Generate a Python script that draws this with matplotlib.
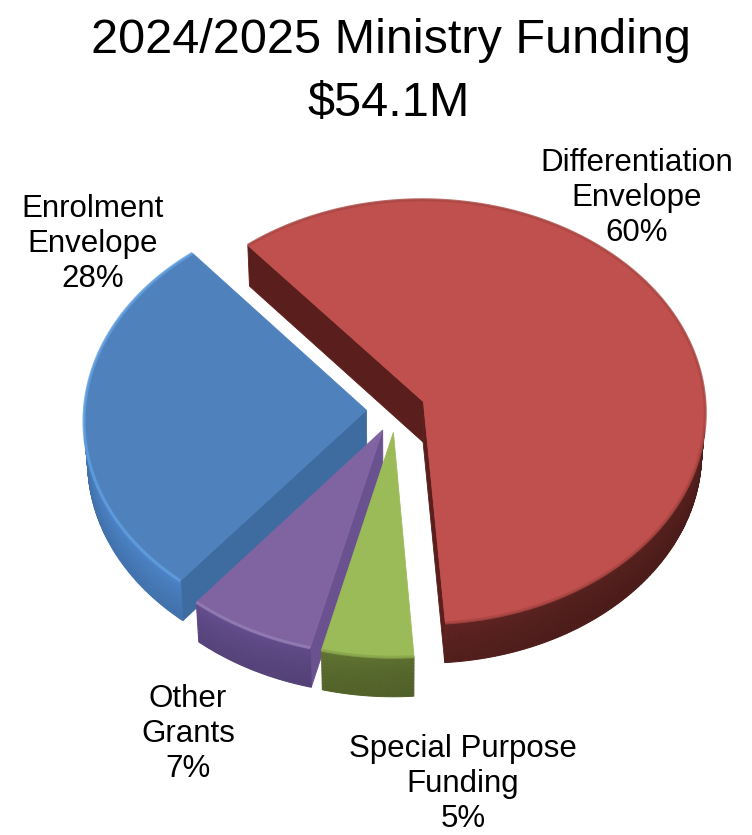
import numpy as np
import matplotlib
matplotlib.use("Agg")
import matplotlib.pyplot as plt
from matplotlib.patches import Polygon
from matplotlib.colors import to_rgb

# ---- data -------------------------------------------------------------
title_line1 = "2024/2025 Ministry Funding"
title_line2 = "$54.1M"
categories = ["Differentiation\nEnvelope", "Special Purpose\nFunding",
              "Other\nGrants", "Enrolment\nEnvelope"]
shares = [60, 5, 7, 28]
top_colors = ["#C0504D", "#9BBB59", "#8064A2", "#4F81BD"]
wall_colors = ["#5E2321", "#5A6C2E", "#5A4680", "#4476B2"]
side_colors = ["#5A1E1C", "#55672B", "#6A5290", "#3E6CA0"]
rim_colors = ["#A84542", "#88A64C", "#9580B6", "#62A0E0"]

# label anchors (centre x, first baseline y) in pixel space
label_x = [637, 463, 188, 93]
label_y0 = [171, 757, 707, 217]
label_step = 35

# ---- view set-up --------------------------------------------------------
W, H = 752, 835
START_DEG = -40.0          # first slice starts here, clockwise from 12 o'clock
EXPLODE = 0.105            # radial offset of every slice (radius = 1)
DEPTH = 0.22               # thickness of the disc
CAM_DIST = 14.0
PHI = np.radians(48.8)     # elevation of the viewpoint
CX, CY = 396.0, 410.0
K = 282.0 * CAM_DIST
cphi, sphi = np.cos(PHI), np.sin(PHI)
CAM = np.array([0.0, -CAM_DIST * cphi, CAM_DIST * sphi])
LIGHT = np.array([-0.75, -0.45, 0.0])
LIGHT /= np.linalg.norm(LIGHT)


def project(X, Y, Z):
    X, Y, Z = np.asarray(X, float), np.asarray(Y, float), np.asarray(Z, float)
    d = CAM_DIST + Y * cphi - Z * sphi
    return np.column_stack([CX + K * X / d, CY - K * (Y * sphi + Z * cphi) / d])


def shade(color, normal, lo=0.88, hi=1.08):
    f = lo + (hi - lo) * max(0.0, float(np.dot(normal, LIGHT)))
    return tuple(min(1.0, c * f) for c in to_rgb(color))


def scale(color, f):
    return tuple(min(1.0, c * f) for c in to_rgb(color))


def facing(normal, point):
    return np.dot(normal, CAM - point) > 0


fig = plt.figure(figsize=(W / 100, H / 100), dpi=100)
ax = fig.add_axes([0, 0, 1, 1])
ax.set_xlim(0, W)
ax.set_ylim(H, 0)
ax.axis("off")

fractions = np.array(shares, float) / np.sum(shares)
edges = START_DEG + 360.0 * np.concatenate([[0], np.cumsum(fractions)])

slices = []
for i in range(len(shares)):
    t0, t1 = np.radians(edges[i]), np.radians(edges[i + 1])
    tm = 0.5 * (t0 + t1)
    off = EXPLODE * np.array([np.sin(tm), np.cos(tm)])
    slices.append((off[1], i, t0, t1, off))

# smooth vertical gradient of the outer wall
N_BANDS = 12
band_z = np.linspace(0.0, 1.0, N_BANDS + 1)
band_f = 1.10 - 0.20 * np.sqrt(0.5 * (band_z[:-1] + band_z[1:]))

# paint the far slices first
for _, i, t0, t1, off in sorted(slices, key=lambda s: -s[0]):
    n = max(4, int(np.degrees(t1 - t0) * 2))
    th = np.linspace(t0, t1, n)
    ax_x = off[0] + np.sin(th)
    ax_y = off[1] + np.cos(th)
    z0 = np.zeros_like(th)
    z1 = -DEPTH * np.ones_like(th)
    top_arc = project(ax_x, ax_y, z0)
    bot_arc = project(ax_x, ax_y, z1)
    apex_top = project([off[0]], [off[1]], [0])[0]
    apex_bot = project([off[0]], [off[1]], [-DEPTH])[0]

    # flat radial walls
    for t, sign, k in ((t0, -1, 0), (t1, 1, -1)):
        nrm = np.array([np.sin(t + sign * np.pi / 2), np.cos(t + sign * np.pi / 2), 0])
        mid = np.array([off[0] + 0.5 * np.sin(t), off[1] + 0.5 * np.cos(t), -DEPTH / 2])
        if facing(nrm, mid):
            col = side_colors[i]
            ax.add_patch(Polygon([apex_top, top_arc[k], bot_arc[k], apex_bot],
                                 closed=True, fc=col, ec=col, lw=0.6))

    # outer curved wall
    for j in range(n - 1):
        tmid = 0.5 * (th[j] + th[j + 1])
        nrm = np.array([np.sin(tmid), np.cos(tmid), 0])
        p = np.array([off[0] + np.sin(tmid), off[1] + np.cos(tmid), -DEPTH / 2])
        if not facing(nrm, p):
            continue
        base = shade(wall_colors[i], nrm)
        xs = [ax_x[j], ax_x[j + 1]]
        ys = [ax_y[j], ax_y[j + 1]]
        for b in range(N_BANDS):
            col = scale(base, band_f[b])
            pa = project(xs, ys, [-band_z[b] * DEPTH] * 2)
            pb = project(xs, ys, [-band_z[b + 1] * DEPTH] * 2)
            ax.add_patch(Polygon([pa[0], pa[1], pb[1], pb[0]], closed=True,
                                 fc=col, ec=col, lw=0.7))

    # top face with a soft bevel along its rim
    ax.add_patch(Polygon(np.vstack([apex_top, top_arc]), closed=True,
                         fc=top_colors[i], ec=top_colors[i], lw=0.6))
    ax.plot(top_arc[:, 0], top_arc[:, 1], color=rim_colors[i],
            lw=2.2, alpha=0.8, solid_capstyle="butt")

# ---- text ---------------------------------------------------------------
FONT = ["Liberation Sans", "DejaVu Sans"]
ax.text(391, 53, title_line1, ha="center", va="baseline", fontsize=35,
        family=FONT, color="black")
ax.text(389, 116, title_line2, ha="center", va="baseline", fontsize=35,
        family=FONT, color="black")

for i, cat in enumerate(categories):
    lines = cat.split("\n") + [f"{shares[i]}%"]
    for k, line in enumerate(lines):
        ax.text(label_x[i], label_y0[i] + k * label_step, line, ha="center",
                va="baseline", fontsize=22.5, family=FONT, color="black")

fig.savefig("out.png", dpi=100)
